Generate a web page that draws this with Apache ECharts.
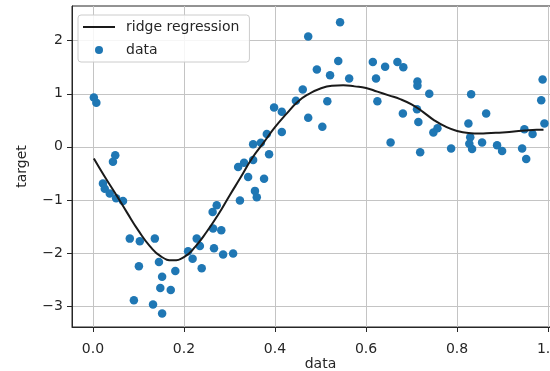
<!DOCTYPE html>
<html>
<head>
<meta charset="utf-8">
<script src="https://cdn.jsdelivr.net/npm/echarts@6/dist/echarts.min.js"></script>
<style>
  html, body { margin: 0; padding: 0; background: #fff; }
  #chart { width: 550px; height: 371px; }
</style>
</head>
<body>
<div id="chart"></div>
<script>
// scatter points
var dataX = [0.002, 0.0075, 0.049, 0.044, 0.022, 0.026, 0.037, 0.051, 0.066, 0.081,
    0.103, 0.136, 0.101, 0.145, 0.152, 0.181, 0.148, 0.171, 0.09, 0.132,
    0.152, 0.209, 0.219, 0.228, 0.235, 0.239, 0.266, 0.286, 0.308, 0.264,
    0.282, 0.272, 0.263, 0.323, 0.356, 0.36, 0.341, 0.376, 0.319, 0.332,
    0.352, 0.387, 0.352, 0.369, 0.382, 0.415, 0.398, 0.415, 0.446, 0.461,
    0.473, 0.504, 0.515, 0.473, 0.543, 0.539, 0.492, 0.521, 0.563, 0.615,
    0.642, 0.669, 0.682, 0.622, 0.625, 0.654, 0.681, 0.713, 0.713, 0.739,
    0.712, 0.715, 0.748, 0.757, 0.719, 0.787, 0.831, 0.864, 0.825, 0.829,
    0.827, 0.833, 0.855, 0.888, 0.899, 0.943, 0.952, 0.948, 0.966, 0.988,
    0.985, 0.992];
var dataY = [0.93, 0.83, -0.16, -0.28, -0.69, -0.79, -0.88, -0.97, -1.02, -1.73,
    -1.78, -1.73, -2.25, -2.17, -2.45, -2.34, -2.66, -2.70, -2.89, -2.97,
    -3.14, -1.97, -2.11, -1.73, -1.87, -2.29, -1.91, -2.03, -2.01, -1.54,
    -1.57, -1.10, -1.23, -1.01, -0.83, -0.95, -0.57, -0.60, -0.38, -0.30,
    -0.25, -0.14, 0.05, 0.075, 0.24, 0.28, 0.74, 0.66, 0.87, 1.08,
    0.55, 0.38, 0.86, 2.08, 2.35, 1.62, 1.46, 1.35, 1.29, 1.60,
    1.51, 1.60, 1.50, 1.29, 0.86, 0.08, 0.63, 1.23, 1.15, 1.00,
    0.71, 0.47, 0.27, 0.35, -0.10, -0.03, 0.99, 0.63, 0.44, 0.18,
    0.06, -0.04, 0.08, 0.03, -0.08, -0.03, -0.23, 0.33, 0.24, 1.27,
    0.88, 0.44];

// ridge regression curve
var curveX = [0.002, 0.025, 0.05, 0.075, 0.1, 0.125, 0.15, 0.175, 0.2, 0.225,
    0.25, 0.275, 0.3, 0.325, 0.35, 0.375, 0.4, 0.425, 0.45, 0.475,
    0.5, 0.525, 0.55, 0.575, 0.6, 0.625, 0.65, 0.675, 0.7, 0.725,
    0.75, 0.775, 0.8, 0.825, 0.85, 0.875, 0.9, 0.925, 0.95, 0.975, 0.99];
var curveY = [-0.22, -0.55, -0.89, -1.24, -1.58, -1.87, -2.07, -2.14, -2.08, -1.88,
    -1.6, -1.28, -0.92, -0.57, -0.21, 0.08, 0.37, 0.62, 0.85, 1.0,
    1.1, 1.15, 1.16, 1.14, 1.11, 1.04, 0.97, 0.9, 0.8, 0.66,
    0.5, 0.38, 0.3, 0.26, 0.25, 0.26, 0.27, 0.29, 0.31, 0.32, 0.32];

var xTicks = [0, 0.2, 0.4, 0.6, 0.8, 1.0];
var yTicks = [-3, -2, -1, 0, 1, 2];

var textColor = '#262626';
var fontFamily = 'DejaVu Sans';
var fontSize = 14;

function pairs(xs, ys) {
    return xs.map(function (x, i) {
        return [x, ys[i]];
    });
}

var chart = echarts.init(document.getElementById('chart'), null, { renderer: 'canvas' });
chart.setOption({
    animation: false,
    backgroundColor: '#fff',
    textStyle: { fontFamily: fontFamily, color: textColor },
    grid: {
        left: 72,
        top: 6,
        width: 497,
        height: 321,
        show: true,
        borderColor: '#262626',
        borderWidth: 1,
        backgroundColor: 'transparent',
        outerBoundsMode: 'none'
    },
    legend: {
        left: 78,
        top: 15,
        orient: 'vertical',
        itemWidth: 32,
        itemHeight: 8,
        itemGap: 7,
        padding: [4, 10, 4, 5],
        backgroundColor: 'rgba(255,255,255,0.85)',
        borderColor: '#cccccc',
        borderWidth: 1,
        borderRadius: 3,
        textStyle: {
            fontFamily: fontFamily,
            fontSize: fontSize,
            color: textColor,
            lineHeight: 16,
            padding: [0, 0, 0, 6]
        },
        data: [
            { name: 'ridge regression', icon: 'path://M0,0H32V2H0Z' },
            { name: 'data', icon: 'circle' }
        ]
    },
    xAxis: {
        type: 'value',
        min: -0.046,
        max: 1.046,
        name: 'data',
        nameLocation: 'middle',
        nameGap: 30,
        nameMoveOverlap: false,
        nameTextStyle: { fontFamily: fontFamily, fontSize: fontSize, color: textColor },
        axisLine: { show: true, onZero: false, lineStyle: { color: '#262626', width: 1 } },
        axisTick: { show: true, length: 5, customValues: xTicks, lineStyle: { color: '#262626' } },
        axisLabel: {
            customValues: xTicks,
            margin: 15,
            fontFamily: fontFamily,
            fontSize: fontSize,
            color: textColor,
            formatter: function (v) {
                return v.toFixed(1);
            }
        },
        splitLine: { show: true, lineStyle: { color: '#c4c4c4', width: 1 } }
    },
    yAxis: {
        type: 'value',
        min: -3.396,
        max: 2.655,
        name: 'target',
        nameLocation: 'middle',
        nameGap: 43,
        nameMoveOverlap: false,
        nameTextStyle: { fontFamily: fontFamily, fontSize: fontSize, color: textColor },
        axisLine: { show: true, onZero: false, lineStyle: { color: '#262626', width: 1 } },
        axisTick: { show: true, length: 5, customValues: yTicks, lineStyle: { color: '#262626' } },
        axisLabel: {
            customValues: yTicks,
            margin: 9,
            fontFamily: fontFamily,
            fontSize: fontSize,
            color: textColor,
            formatter: function (v) {
                return String(v).replace('-', '\u2212');
            }
        },
        splitLine: { show: true, lineStyle: { color: '#c4c4c4', width: 1 } }
    },
    series: [
        {
            name: 'data',
            type: 'scatter',
            symbolSize: 8.5,
            itemStyle: { color: '#1f77b4', opacity: 1 },
            data: pairs(dataX, dataY)
        },
        {
            name: 'ridge regression',
            type: 'line',
            smooth: true,
            showSymbol: false,
            symbol: 'none',
            color: '#1a1a1a',
            lineStyle: { color: '#1a1a1a', width: 2 },
            data: pairs(curveX, curveY)
        }
    ]
});
</script>
</body>
</html>
